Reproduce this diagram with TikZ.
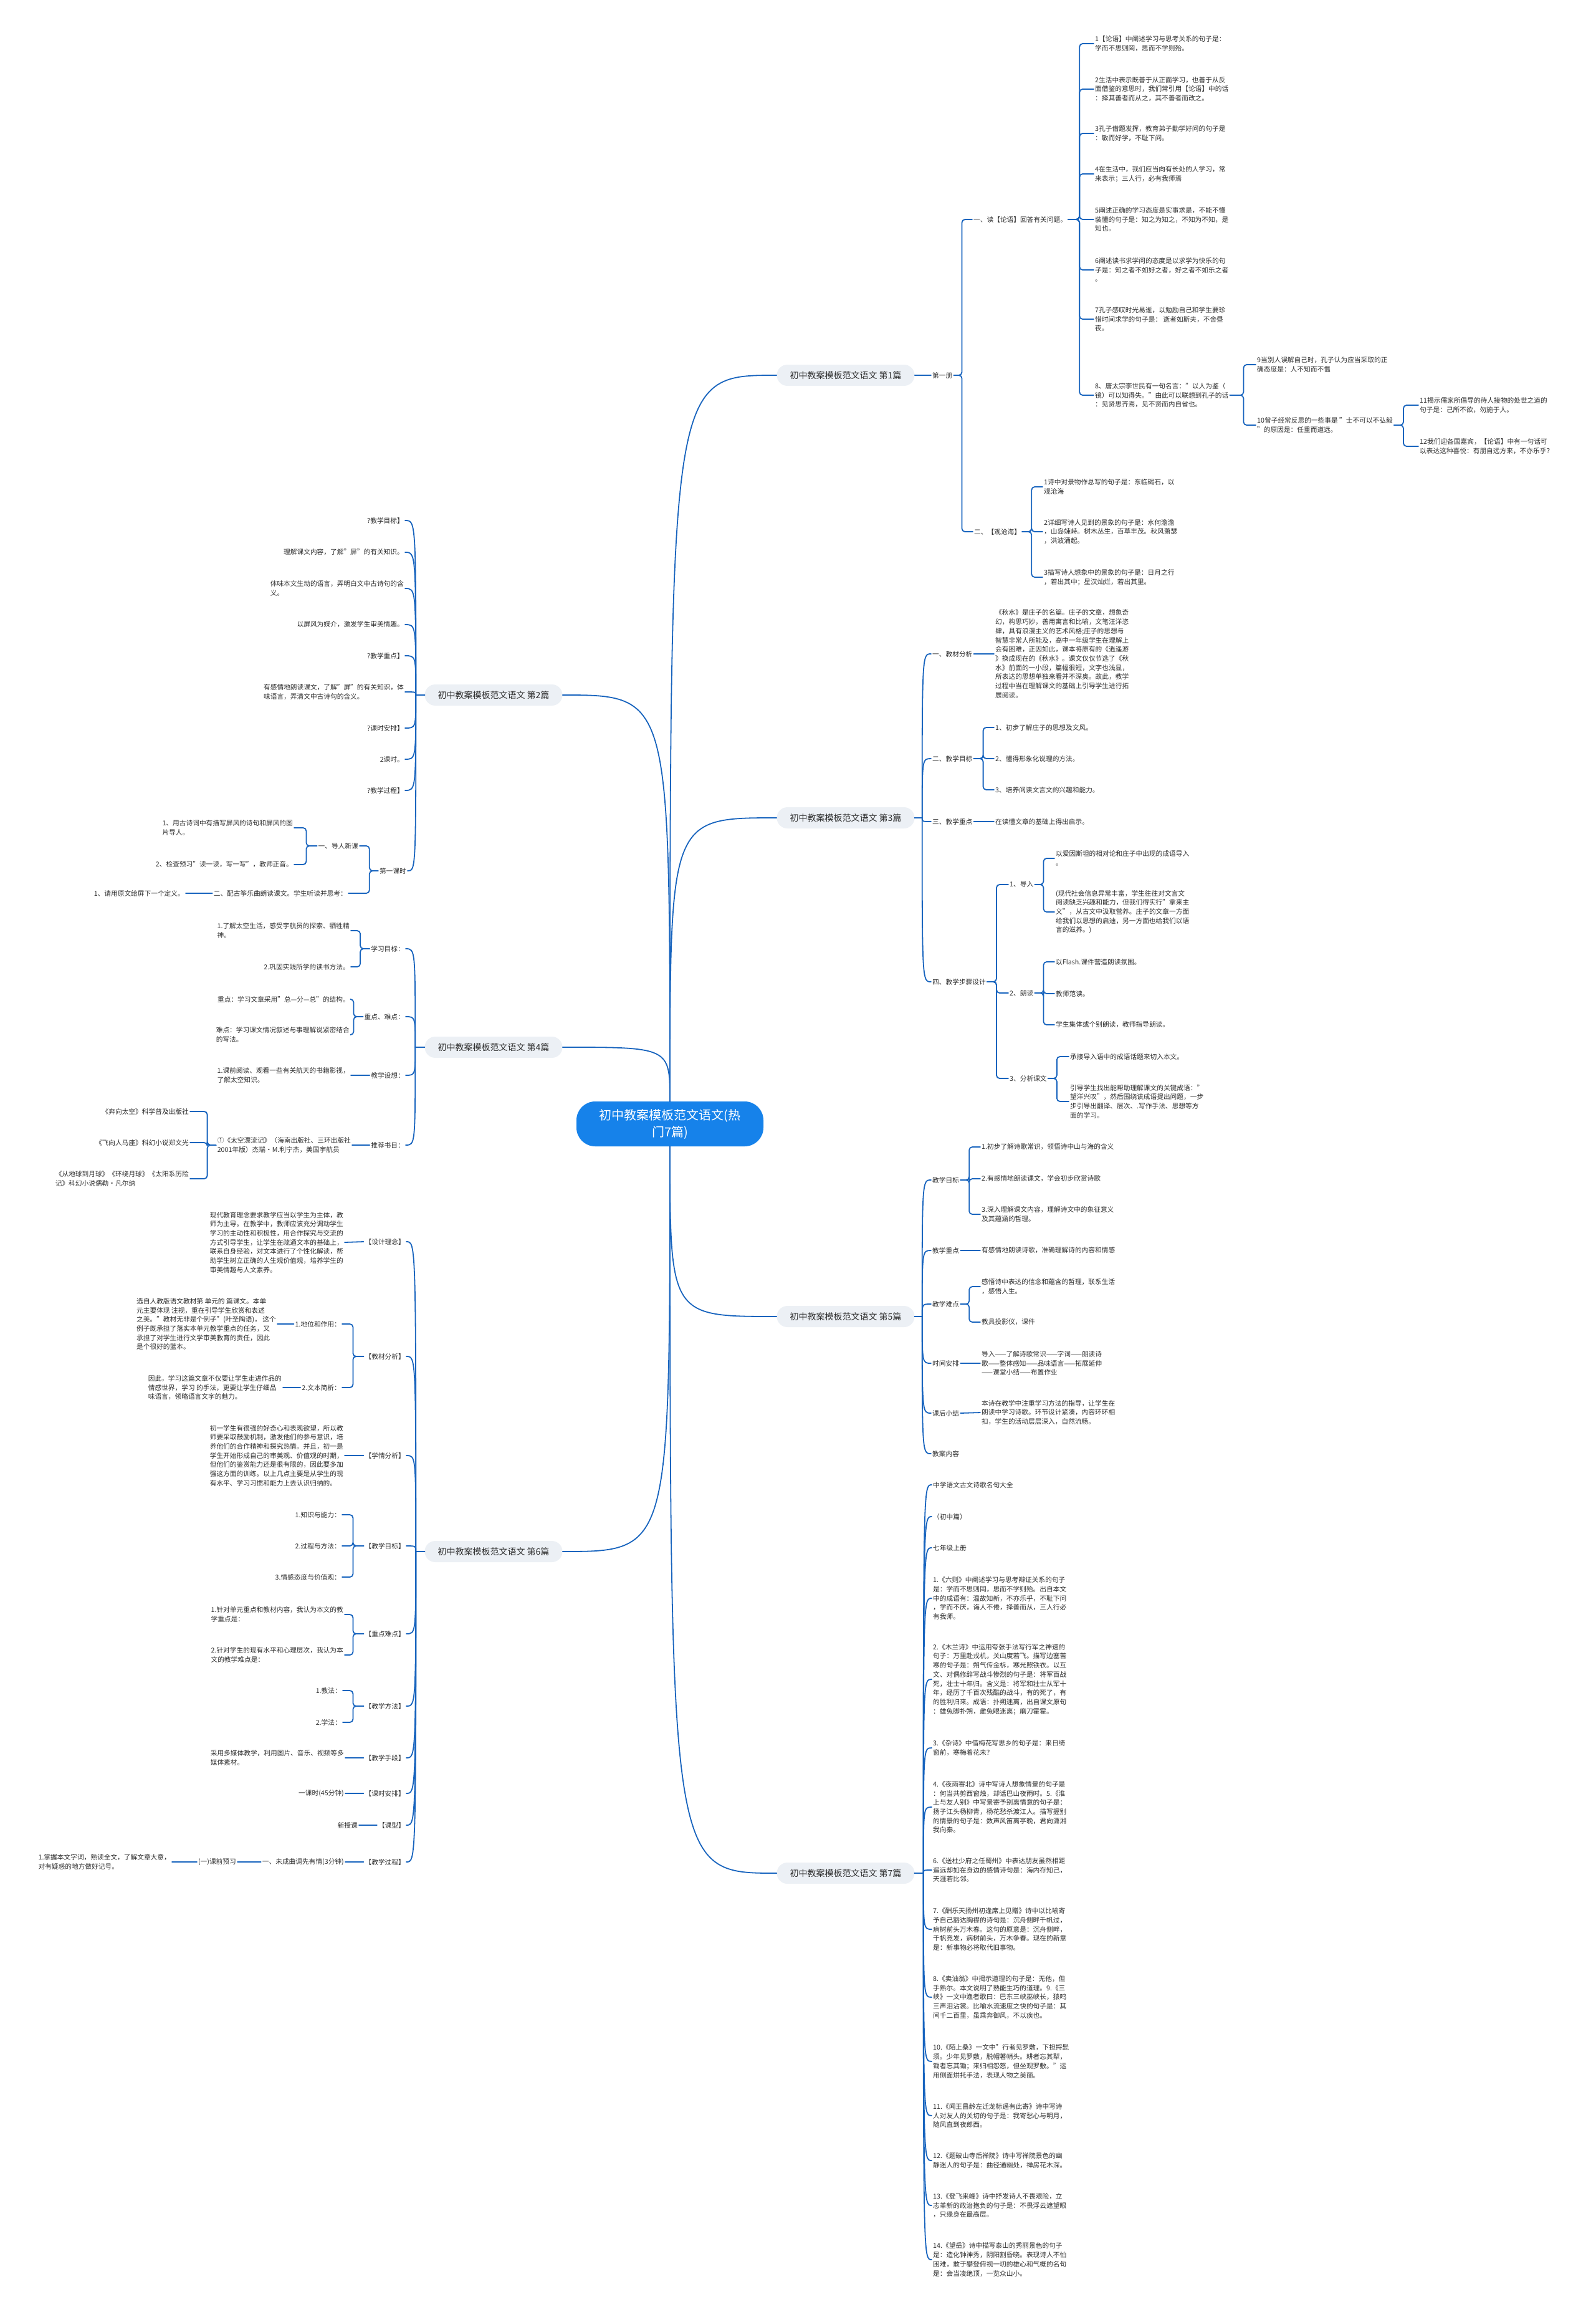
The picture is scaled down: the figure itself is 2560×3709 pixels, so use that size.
\documentclass[tikz,border=0pt]{standalone}
\usepackage{fontspec}
\setmainfont{Noto Sans CJK SC}
\usetikzlibrary{calc}
\definecolor{lnk}{RGB}{24,100,190}
\definecolor{txt}{RGB}{45,45,45}
\definecolor{bfill}{RGB}{236,240,245}
\definecolor{rootblue}{RGB}{22,130,234}
\newcommand\leaffont{\fontsize{10.7}{14.7}\selectfont}
\newcommand\branchfont{\fontsize{14}{17}\selectfont}
\newcommand\rootfont{\fontsize{20}{27}\selectfont}
% curved fan from a branch to its children
\newcommand\fanR[3]{\coordinate (#1s) at ($(#1.east)+(#2,0)$);
  \foreach \c in {#3}{\draw[link] (#1.east) -- (#1s) .. controls (#1s |- \c.west) .. (\c.west);}}
\newcommand\fanL[3]{\coordinate (#1s) at ($(#1.west)+(-#2,0)$);
  \foreach \c in {#3}{\draw[link] (#1.west) -- (#1s) .. controls (#1s |- \c.east) .. (\c.east);}}
% bracket to children
\newcommand\brkR[3]{\foreach \c in {#3}{\draw[brk] (#1.east) -- ++(#2,0) |- (\c.west);}}
\newcommand\brkL[3]{\foreach \c in {#3}{\draw[brk] (#1.west) -- ++(-#2,0) |- (\c.east);}}
\tikzset{
  leaf/.style={inner sep=2pt, align=left, font=\leaffont, text=txt},
  leafR/.style={leaf, anchor=west},
  leafL/.style={leaf, anchor=east},
  branch/.style={fill=bfill, rounded corners=17pt, minimum width=221pt, minimum height=34pt, font=\branchfont, text=txt},
  rootnode/.style={fill=rootblue, rounded corners=30pt, align=center, minimum width=300pt, minimum height=72pt, font=\rootfont, text=white},
  link/.style={draw=lnk, line width=1.8pt, line cap=round},
  brk/.style={link, rounded corners=5pt},
}
\begin{document}
\begin{tikzpicture}[x=1pt,y=-1pt,line join=round]
\fill[white] (0,0) rectangle (2560,3709);
\useasboundingbox (0,0) rectangle (2560,3709);

% root and the seven branches
\node[rootnode] (root) at (1075,1803) {初中教案模板范文语文(热\\门7篇)};
\coordinate (rootC) at (1075,1803);
\foreach \n/\x/\y in {1/1357/602,2/792/1115,3/1357/1312,4/792/1680,5/1357/2112,6/792/2489,7/1357/3005}
  \node[branch] (b\n) at (\x,\y) {初中教案模板范文语文 第\n{}篇};
\foreach \b/\e in {b1/north,b3/north,b5/south,b7/south}
  \draw[link] (\b.west) .. controls (\b.west -| rootC) .. (root.\e);
\foreach \b/\e in {b2/north,b4/north,b6/south}
  \draw[link] (\b.east) .. controls (\b.east -| rootC) .. (root.\e);

% 第1篇
\node[leafR] (c1) at (1494,602) {第一册};
\node[leafR] (d1) at (1560,352) {一、读【论语】回答有关问题。};
\node[leafR] (d2) at (1561,853) {二、【观沧海】};
\node[leafR] (e1) at (1755,70) {1【论语】中阐述学习与思考关系的句子是：\\学而不思则罔，思而不学则殆。};
\node[leafR] (e2) at (1755,143) {2生活中表示既善于从正面学习，也善于从反\\面借鉴的意思时，我们常引用【论语】中的话\\：择其善者而从之，其不善者而改之。};
\node[leafR] (e3) at (1755,214) {3孔子借题发挥，教育弟子勤学好问的句子是\\：敏而好学，不耻下问。};
\node[leafR] (e4) at (1755,279) {4在生活中，我们应当向有长处的人学习，常\\来表示；三人行，必有我师焉};
\node[leafR] (e5) at (1755,352) {5阐述正确的学习态度是实事求是，不能不懂\\装懂的句子是：知之为知之，不知为不知，是\\知也。};
\node[leafR] (e6) at (1755,433) {6阐述读书求学问的态度是以求学为快乐的句\\子是：知之者不如好之者，好之者不如乐之者\\。};
\node[leafR] (e7) at (1755,512) {7孔子感叹时光易逝，以勉励自己和学生要珍\\惜时间求学的句子是： 逝者如斯夫，不舍昼\\夜。};
\node[leafR] (e8) at (1755,634) {8、唐太宗李世民有一句名言："以人为鉴（\\镜）可以知得失。"由此可以联想到孔子的话\\：见贤思齐焉，见不贤而内自省也。};
\node[leafR] (f9) at (2015,585) {9当别人误解自己时，孔子认为应当采取的正\\确态度是：人不知而不愠};
\node[leafR] (f10) at (2015,682) {10曾子经常反思的一些事是 "士不可以不弘毅\\"的原因是：任重而道远。};
\node[leafR] (g11) at (2276,650) {11揭示儒家所倡导的待人接物的处世之道的\\句子是：己所不欲，勿施于人。};
\node[leafR] (g12) at (2276,716) {12我们迎各国嘉宾，【论语】中有一句话可\\以表达这种喜悦：有朋自远方来，不亦乐乎？};
\node[leafR] (h1) at (1673,781) {1诗中对景物作总写的句子是：东临碣石，以\\观沧海};
\node[leafR] (h2) at (1673,853) {2详细写诗人见到的景象的句子是：水何澹澹\\，山岛竦峙。树木丛生，百草丰茂。秋风萧瑟\\，洪波涌起。};
\node[leafR] (h3) at (1673,926) {3描写诗人想象中的景象的句子是：日月之行\\，若出其中；星汉灿烂，若出其里。};
\draw[link] (b1.east) -- (c1.west);
\brkR{c1}{13}{d1,d2}
\brkR{d1}{18}{e1,e2,e3,e4,e5,e6,e7,e8}
\brkR{e8}{22}{f9,f10}
\brkR{f10}{15}{g11,g12}
\brkR{d2}{15}{h1,h2,h3}

% 第2篇
\node[leafL] (k1) at (650,835) {?教学目标】};
\node[leafL] (k2) at (650,886) {理解课文内容，了解"屏"的有关知识。};
\node[leafL] (k3) at (650,944) {体味本文生动的语言，弄明白文中古诗句的含\\义。};
\node[leafL] (k4) at (650,1002) {以屏风为媒介，激发学生审美情趣。};
\node[leafL] (k5) at (650,1052) {?教学重点】};
\node[leafL] (k6) at (650,1110) {有感情地朗读课文，了解"屏"的有关知识，体\\味语言，弄清文中古诗句的含义。};
\node[leafL] (k7) at (650,1168) {?课时安排】};
\node[leafL] (k8) at (650,1218) {2课时。};
\node[leafL] (k9) at (650,1268) {?教学过程】};
\node[leafL] (k10) at (654,1397) {第一课时};
\node[leafL] (m1) at (577,1357) {一、导人新课};
\node[leafL] (m2) at (559,1433) {二、配古筝乐曲朗读课文。学生听读并思考：};
\node[leafL] (n1) at (472,1328) {1、用古诗词中有描写屏风的诗句和屏风的图\\片导人。};
\node[leafL] (n2) at (472,1387) {2、检查预习"读一读，写一写"，教师正音。};
\node[leafL] (n3) at (298,1433) {1、请用原文给屏下一个定义。};
\fanL{b2}{14}{k1,k2,k3,k4,k5,k6,k7,k8,k9,k10}
\brkL{k10}{14}{m1,m2}
\brkL{m1}{17}{n1,n2}
\draw[link] (m2.west) -- (n3.east);

% 第3篇
\node[leafR] (p1) at (1494,1049) {一、教材分析};
\node[leafR] (p2) at (1494,1217) {二、教学目标};
\node[leafR] (p3) at (1494,1318) {三、教学重点};
\node[leafR] (p4) at (1494,1575) {四、教学步骤设计};
\node[leafR] (q1) at (1595,1049) {《秋水》是庄子的名篇。庄子的文章，想象奇\\幻，构思巧妙，善用寓言和比喻，文笔汪洋恣\\肆，具有浪漫主义的艺术风格;庄子的思想与\\智慧非常人所能及，高中一年级学生在理解上\\会有困难，正因如此，课本将原有的《逍遥游\\》换成现在的《秋水》。课文仅仅节选了《秋\\水》前面的一小段，篇幅很短，文字也浅显，\\所表达的思想单独来看并不深奥。故此，教学\\过程中当在理解课文的基础上引导学生进行拓\\展阅读。};
\node[leafR] (q2) at (1595,1167) {1、初步了解庄子的思想及文风。};
\node[leafR] (q3) at (1595,1217) {2、懂得形象化说理的方法。};
\node[leafR] (q4) at (1595,1267) {3、培养阅读文言文的兴趣和能力。};
\node[leafR] (q5) at (1595,1318) {在读懂文章的基础上得出启示。};
\node[leafR] (r1) at (1618,1419) {1、导入};
\node[leafR] (r2) at (1618,1593) {2、朗读};
\node[leafR] (r3) at (1618,1730) {3、分析课文};
\node[leafR] (t1) at (1692,1377) {以爱因斯坦的相对论和庄子中出现的成语导入\\。};
\node[leafR] (t2) at (1692,1463) {(现代社会信息异常丰富，学生往往对文言文\\阅读缺乏兴趣和能力，但我们得实行"拿来主\\义"，从古文中汲取营养。庄子的文章一方面\\给我们以思想的启迪，另一方面也给我们以语\\言的滋养。)};
\node[leafR] (t3) at (1692,1543) {以Flash.课件营造朗读氛围。};
\node[leafR] (t4) at (1692,1594) {教师范读。};
\node[leafR] (t5) at (1692,1644) {学生集体或个别朗读，教师指导朗读。};
\node[leafR] (t6) at (1715,1695) {承接导入语中的成语话题来切入本文。};
\node[leafR] (t7) at (1715,1767) {引导学生找出能帮助理解课文的关键成语："\\望洋兴叹"，然后围绕该成语提出问题，一步\\步引导出翻译、层次、.写作手法、思想等方\\面的学习。};
\fanR{b3}{12}{p1,p2,p3,p4}
\draw[link] (p1.east) -- (q1.west);
\brkR{p2}{15}{q2,q3,q4}
\draw[link] (p3.east) -- (q5.west);
\brkR{p4}{15}{r1,r2,r3}
\brkR{r1}{14}{t1,t2}
\brkR{r2}{14}{t3,t4,t5}
\brkR{r3}{14}{t6,t7}

% 第4篇
\node[leafL] (u1) at (651,1522) {学习目标：};
\node[leafL] (u2) at (651,1631) {重点、难点：};
\node[leafL] (u3) at (651,1725) {教学设想：};
\node[leafL] (u4) at (651,1837) {推荐书目：};
\node[leafL] (v1) at (563,1493) {1.了解太空生活，感受宇航员的探索、牺牲精\\神。};
\node[leafL] (v2) at (563,1551) {2.巩固实践所学的读书方法。};
\node[leafL] (v3) at (563,1603) {重点：学习文章采用"总—分—总"的结构。};
\node[leafL] (v4) at (563,1660) {难点：学习课文情况叙述与事理解说紧密结合\\的写法。};
\node[leafL] (v5) at (563,1725) {1.课前阅读、观看一些有关航天的书籍影视，\\了解太空知识。};
\node[leafL] (v6) at (565,1837) {①《太空漂流记》（海南出版社、三环出版社\\2001年版）杰瑞·M.利宁杰，美国宇航员};
\node[leafL] (w1) at (305,1783) {《奔向太空》科学普及出版社};
\node[leafL] (w2) at (305,1833) {《飞向人马座》科幻小说郑文光};
\node[leafL] (w3) at (305,1891) {《从地球到月球》《环绕月球》《太阳系历险\\记》科幻小说儒勒·凡尔纳};
\fanL{b4}{15}{u1,u2,u3,u4}
\brkL{u1}{15}{v1,v2}
\brkL{u2}{15}{v3,v4}
\draw[link] (u3.west) -- (v5.east);
\draw[link] (u4.west) -- (v6.east);
\brkL{v6}{14}{w1,w2,w3}

% 第5篇
\node[leafR] (x1) at (1494,1893) {教学目标};
\node[leafR] (x2) at (1494,2006) {教学重点};
\node[leafR] (x3) at (1494,2092) {教学难点};
\node[leafR] (x4) at (1494,2187) {时间安排};
\node[leafR] (x5) at (1494,2267) {课后小结};
\node[leafR] (x6) at (1494,2332) {教案内容};
\node[leafR] (y1) at (1573,1840) {1.初步了解诗歌常识，领悟诗中山与海的含义};
\node[leafR] (y2) at (1573,1891) {2.有感情地朗读课文，学会初步欣赏诗歌};
\node[leafR] (y3) at (1573,1948) {3.深入理解课文内容，理解诗文中的象征意义\\及其蕴涵的哲理。};
\node[leafR] (y4) at (1573,2006) {有感情地朗读诗歌，准确理解诗的内容和情感};
\node[leafR] (y5) at (1573,2064) {感悟诗中表达的信念和蕴含的哲理，联系生活\\，感悟人生。};
\node[leafR] (y6) at (1573,2121) {教具投影仪，课件};
\node[leafR] (y7) at (1573,2187) {导入——了解诗歌常识——字词——朗读诗\\歌——整体感知——品味语言——拓展延伸\\——课堂小结——布置作业};
\node[leafR] (y8) at (1573,2266) {本诗在教学中注重学习方法的指导，让学生在\\朗读中学习诗歌。环节设计紧凑，内容环环相\\扣，学生的活动层层深入，自然流畅。};
\fanR{b5}{12}{x1,x2,x3,x4,x5,x6}
\brkR{x1}{14}{y1,y2,y3}
\draw[link] (x2.east) -- (y4.west);
\brkR{x3}{14}{y5,y6}
\draw[link] (x4.east) -- (y7.west);
\draw[link] (x5.east) -- (y8.west);

% 第6篇
\node[leafL] (z1) at (652,1992) {【设计理念】};
\node[leafL] (z2) at (652,2176) {【教材分析】};
\node[leafL] (z3) at (652,2335) {【学情分析】};
\node[leafL] (z4) at (652,2480) {【教学目标】};
\node[leafL] (z5) at (652,2621) {【重点难点】};
\node[leafL] (z6) at (652,2737) {【教学方法】};
\node[leafL] (z7) at (652,2820) {【教学手段】};
\node[leafL] (z8) at (652,2877) {【课时安排】};
\node[leafL] (z9) at (652,2928) {【课型】};
\node[leafL] (z10) at (652,2987) {【教学过程】};
\node[leafL] (za) at (553,1993) {现代教育理念要求教学应当以学生为主体，教\\师为主导。在教学中，教师应该充分调动学生\\学习的主动性和积极性，用合作探究与交流的\\方式引导学生，让学生在疏通文本的基础上，\\联系自身经验，对文本进行了个性化解读，帮\\助学生树立正确的人生观价值观，培养学生的\\审美情趣与人文素养。};
\node[leafL] (zb1) at (549,2124) {1.地位和作用：};
\node[leafL] (zb2) at (549,2226) {2.文本简析：};
\node[leafL] (zb3) at (445,2124) {选自人教版语文教材第 单元的 篇课文。本单\\元主要体现 注视，重在引导学生欣赏和表述\\之美。"教材无非是个例子"(叶圣陶语)， 这个\\例子既承担了落实本单元教学重点的任务，又\\承担了对学生进行文学审美教育的责任，因此\\是个很好的蓝本。};
\node[leafL] (zb4) at (454,2226) {因此，学习这篇文章不仅要让学生走进作品的\\情感世界，学习 的手法，更要让学生仔细品\\味语言，领略语言文字的魅力。};
\node[leafL] (zc) at (553,2335) {初一学生有很强的好奇心和表现欲望，所以教\\师要采取鼓励机制，激发他们的参与意识，培\\养他们的合作精神和探究热情。并且，初一是\\学生开始形成自己的审美观、价值观的时期，\\但他们的鉴赏能力还是很有限的，因此要多加\\强这方面的训练。以上几点主要是从学生的现\\有水平、学习习惯和能力上去认识归纳的。};
\node[leafL] (zd1) at (549,2430) {1.知识与能力：};
\node[leafL] (zd2) at (549,2480) {2.过程与方法：};
\node[leafL] (zd3) at (549,2530) {3.情感态度与价值观：};
\node[leafL] (ze1) at (553,2590) {1.针对单元重点和教材内容，我认为本文的教\\学重点是：};
\node[leafL] (ze2) at (553,2655) {2.针对学生的现有水平和心理层次，我认为本\\文的教学难点是：};
\node[leafL] (zf1) at (550,2712) {1.教法：};
\node[leafL] (zf2) at (550,2763) {2.学法：};
\node[leafL] (zg) at (554,2820) {采用多媒体教学，利用图片、音乐、视频等多\\媒体素材。};
\node[leafL] (zh) at (554,2877) {一课时(45分钟)};
\node[leafL] (zi) at (576,2928) {新授课};
\node[leafL] (zj1) at (554,2987) {一、未成曲调先有情(3分钟)};
\node[leafL] (zj2) at (381,2987) {(一)课前预习};
\node[leafL] (zj3) at (276,2987) {1.掌握本文字词，熟读全文，了解文章大意，\\对有疑惑的地方做好记号。};
\fanL{b6}{14}{z1,z2,z3,z4,z5,z6,z7,z8,z9,z10}
\draw[link] (z1.west) -- (za.east);
\brkL{z2}{17}{zb1,zb2}
\draw[link] (zb1.west) -- (zb3.east);
\draw[link] (zb2.west) -- (zb4.east);
\draw[link] (z3.west) -- (zc.east);
\brkL{z4}{17}{zd1,zd2,zd3}
\brkL{z5}{17}{ze1,ze2}
\brkL{z6}{17}{zf1,zf2}
\draw[link] (z7.west) -- (zg.east);
\draw[link] (z8.west) -- (zh.east);
\draw[link] (z9.west) -- (zi.east);
\draw[link] (z10.west) -- (zj1.east);
\draw[link] (zj1.west) -- (zj2.east);
\draw[link] (zj2.west) -- (zj3.east);

% 第7篇
\node[leafR] (s1) at (1495,2382) {中学语文古文诗歌名句大全};
\node[leafR] (s2) at (1495,2433) {（初中篇）};
\node[leafR] (s3) at (1495,2483) {七年级上册};
\node[leafR] (s4) at (1495,2564) {1.《六则》中阐述学习与思考辩证关系的句子\\是：学而不思则罔，思而不学则殆。出自本文\\中的成语有：温故知新，不亦乐乎，不耻下问\\，学而不厌，诲人不倦，择善而从，三人行必\\有我师。};
\node[leafR] (s5) at (1495,2694) {2.《木兰诗》中运用夸张手法写行军之神速的\\句子：万里赴戎机，关山度若飞。描写边塞苦\\寒的句子是：朔气传金柝，寒光照铁衣。以互\\文、对偶修辞写战斗惨烈的句子是：将军百战\\死，壮士十年归。含义是：将军和壮士从军十\\年，经历了千百次残酷的战斗，有的死了，有\\的胜利归来。成语：扑朔迷离，出自课文原句\\：雄兔脚扑朔，雌兔眼迷离；磨刀霍霍。};
\node[leafR] (s6) at (1495,2804) {3.《杂诗》中借梅花写思乡的句子是：来日绮\\窗前，寒梅着花未？};
\node[leafR] (s7) at (1495,2899) {4.《夜雨寄北》诗中写诗人想象情景的句子是\\：何当共剪西窗烛，却话巴山夜雨时。5.《淮\\上与友人别》中写景寄予别离情意的句子是：\\扬子江头杨柳青，杨花愁杀渡江人。描写握别\\的情景的句子是：数声风笛离亭晚，君向潇湘\\我向秦。};
\node[leafR] (s8) at (1495,3000) {6.《送杜少府之任蜀州》中表达朋友虽然相距\\遥远却如在身边的感情诗句是：海内存知己，\\天涯若比邻。};
\node[leafR] (s9) at (1495,3095) {7.《酬乐天扬州初逢席上见赠》诗中以比喻寄\\予自己豁达胸襟的诗句是：沉舟侧畔千帆过，\\病树前头万木春。这句的原意是：沉舟侧畔，\\千帆竞发，病树前头，万木争春。现在的新意\\是：新事物必将取代旧事物。};
\node[leafR] (s10) at (1495,3204) {8.《卖油翁》中揭示道理的句子是：无他，但\\手熟尔。本文说明了熟能生巧的道理。9.《三\\峡》一文中渔者歌曰：巴东三峡巫峡长，猿鸣\\三声泪沾裳。比喻水流速度之快的句子是：其\\间千二百里，虽乘奔御风，不以疾也。};
\node[leafR] (s11) at (1495,3307) {10.《陌上桑》一文中"行者见罗敷，下担捋髭\\须。少年见罗敷，脱帽著帩头。耕者忘其犁，\\锄者忘其锄；来归相怨怒，但坐观罗敷。"运\\用侧面烘托手法，表现人物之美丽。};
\node[leafR] (s12) at (1495,3394) {11.《闻王昌龄左迁龙标遥有此寄》诗中写诗\\人对友人的关切的句子是：我寄愁心与明月，\\随风直到夜郎西。};
\node[leafR] (s13) at (1495,3466) {12.《题破山寺后禅院》诗中写禅院景色的幽\\静迷人的句子是：曲径通幽处，禅房花木深。};
\node[leafR] (s14) at (1495,3538) {13.《登飞来峰》诗中抒发诗人不畏艰险，立\\志革新的政治抱负的句子是：不畏浮云遮望眼\\，只缘身在最高层。};
\node[leafR] (s15) at (1495,3625) {14.《望岳》诗中描写泰山的秀丽景色的句子\\是：造化钟神秀，阴阳割昏晓。表现诗人不怕\\困难，敢于攀登俯视一切的雄心和气概的名句\\是：会当凌绝顶，一览众山小。};
\fanR{b7}{14}{s1,s2,s3,s4,s5,s6,s7,s8,s9,s10,s11,s12,s13,s14,s15}
\end{tikzpicture}
\end{document}
